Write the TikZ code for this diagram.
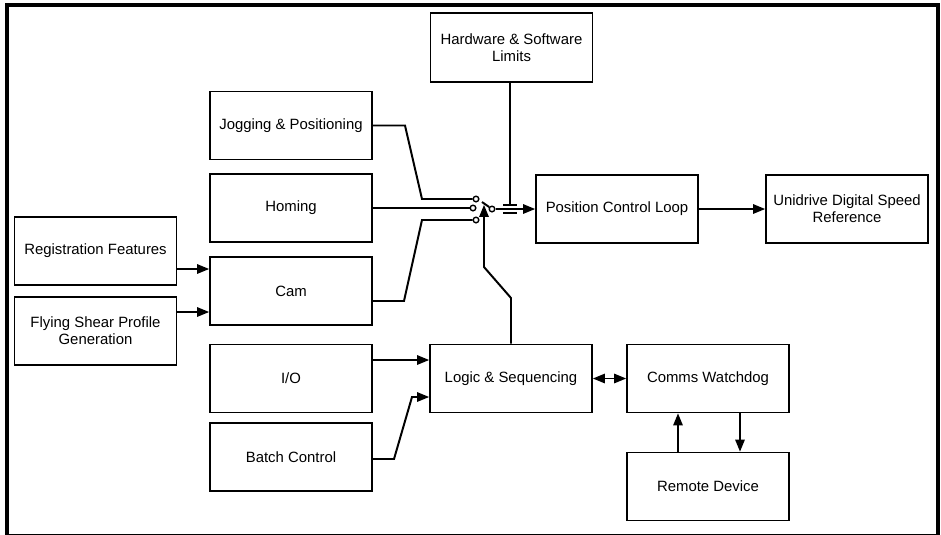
\documentclass[tikz,border=0pt]{standalone}
\usepackage{fontspec}
\setmainfont{Liberation Sans}
\usetikzlibrary{arrows.meta}

\tikzset{
  blk/.style={draw, line width=1.1pt, minimum width=4.05cm, minimum height=1.7cm,
    align=center, inner sep=0pt, font=\fontsize{10.6}{12.2}\selectfont},
  contact/.style={draw, circle, fill=white, line width=1pt, minimum size=0.14cm, inner sep=0pt},
  wire/.style={line width=1.4pt},
}

\begin{document}
\begin{tikzpicture}[>={Triangle[length=3mm,width=2.3mm]}]
      \useasboundingbox (0,0) rectangle (23.525,-13.35);
      \draw[line width=2.85pt] (0.175,-13.4) -- (0.175,-0.1175) -- (23.4575,-0.1175)
        -- (23.4575,-13.4) -- cycle;

      \node[blk, minimum height=1.725cm] (hw) at (12.7875,-1.1875) {Hardware \& Software\\Limits};
      \node[blk] (jog) at (7.275,-3.1375) {Jogging \& Positioning};
      \node[blk] (hom) at (7.275,-5.2) {Homing};
      \node[blk] (cam) at (7.275,-7.275) {Cam};
      \node[blk] (reg) at (2.3875,-6.275) {Registration Features};
      \node[blk] (fly) at (2.3875,-8.275) {Flying Shear Profile\\Generation};
      \node[blk] (io) at (7.275,-9.4625) {I/O};
      \node[blk] (bat) at (7.275,-11.425) {Batch Control};
      \node[blk] (log) at (12.775,-9.4625) {Logic \& Sequencing};
      \node[blk] (cw) at (17.7,-9.4625) {Comms Watchdog};
      \node[blk] (rem) at (17.7,-12.1625) {Remote Device};
      \node[blk] (pcl) at (15.425,-5.225) {Position Control Loop};
      \node[blk] (uni) at (21.175,-5.225) {Unidrive Digital Speed\\Reference};

      % switch contacts
      \node[contact] (ctj) at (11.9,-4.975) {};
      \node[contact] (cth) at (11.825,-5.2) {};
      \node[contact] (ctc) at (11.9,-5.5) {};
      \node[contact] (cc) at (12.3,-5.225) {};

      \coordinate (Jogb) at (10.125,-3.1375);
      \coordinate (Jogd) at (10.55,-4.975);
      \coordinate (Camb) at (10.1,-7.525);
      \coordinate (Camd) at (10.55,-5.5);
      \coordinate (Blade) at (12.05,-5.05);
      \coordinate (Loga) at (12.775,-7.45);
      \coordinate (Logb) at (12.1,-6.675);
      \coordinate (Logt) at (12.1,-5.12);
      \coordinate (Limt) at (12.75,-5.125);
      \coordinate (Limb) at (12.75,-5.325);
      \coordinate (Bata) at (9.85,-11.475);
      \coordinate (Batb) at (10.3,-9.925);

      \draw[wire] (jog.east) -- (Jogb) -- (Jogd) -- (ctj);
      \draw[wire] (hom) -- (cth);
      \draw[wire] (cam.east |- Camb) -- (Camb) -- (Camd) -- (ctc);
      \draw[wire] (cc) -- (Blade);
      \draw[wire,->] (log.north) -- (Loga) -- (Logb) -- (Logt);

      \draw[wire,->] (cc) -- (pcl);
      \draw[wire] (hw.south -| Limt) -- (Limt);
      \draw[wire] ([xshift=-0.175cm]Limt) -- ([xshift=0.175cm]Limt);
      \draw[wire] ([xshift=-0.175cm]Limb) -- ([xshift=0.175cm]Limb);
      \draw[wire,->] (pcl) -- (uni);

      \draw[wire,->] ([yshift=-0.45cm]reg.east) -- ([yshift=-0.45cm]reg.east -| cam.west);
      \draw[wire,->] ([yshift=0.475cm]fly.east) -- ([yshift=0.475cm]fly.east -| cam.west);
      \draw[wire,->] ([yshift=0.4625cm]io.east) -- ([yshift=0.4625cm]io.east -| log.west);
      \draw[wire,->] (bat.east |- Bata) -- (Bata) -- (Batb) -- (Batb -| log.west);

      \draw[wire,<->] (log) -- (cw);
      \draw[wire,->] ([xshift=0.8cm]cw.south) -- ([xshift=0.8cm]rem.north);
      \draw[wire,->] ([xshift=-0.75cm]rem.north) -- ([xshift=-0.75cm]cw.south);
    \end{tikzpicture}
\end{document}
